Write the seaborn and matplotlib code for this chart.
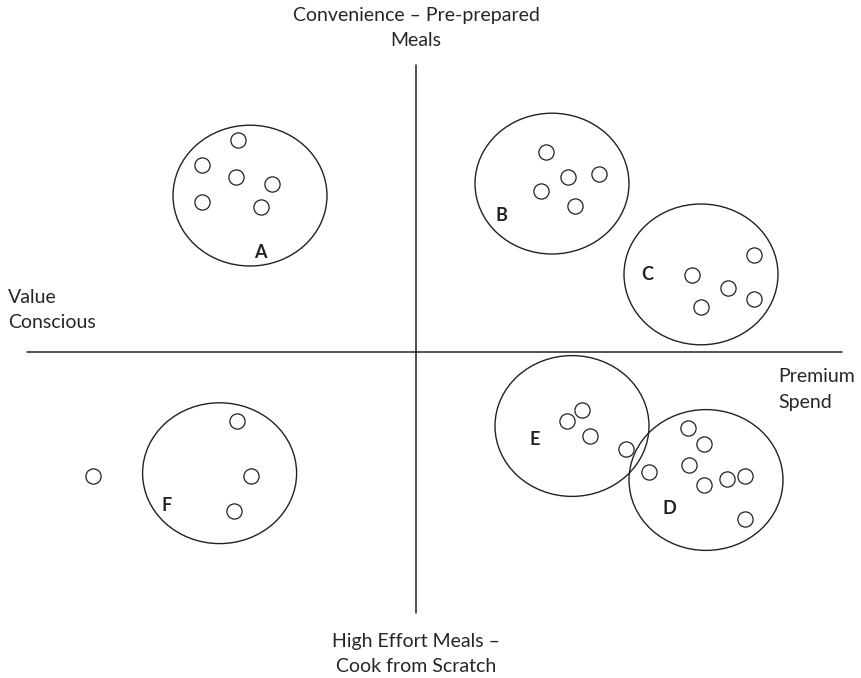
import numpy as np
import pandas as pd
import matplotlib
matplotlib.use("Agg")
import matplotlib.pyplot as plt
from matplotlib.patches import Ellipse
import seaborn as sns

# ---- data (perceptual map units; axes cross at 0,0) ----
seg_A_x = [-4.45, -5.35, -4.50, -3.60, -5.35, -3.875]
seg_A_y = [5.30, 4.675, 4.375, 4.20, 3.75, 3.625]
seg_B_x = [3.24, 3.79, 4.575, 3.125, 3.975]
seg_B_y = [5.01, 4.38, 4.44, 4.025, 3.66]
seg_C_x = [8.45, 6.89, 7.79, 8.45, 7.12]
seg_C_y = [2.425, 1.925, 1.59, 1.325, 1.13]
seg_D_x = [6.81, 7.20, 5.83, 6.83, 7.20, 7.77, 8.23, 8.23]
seg_D_y = [-1.91, -2.31, -3.01, -2.83, -3.33, -3.18, -3.09, -4.18]
seg_E_x = [4.16, 3.77, 4.35, 5.24]
seg_E_y = [-1.45, -1.72, -2.09, -2.43]
seg_F_x = [-8.07, -4.48, -4.13, -4.55]
seg_F_y = [-3.10, -1.72, -3.10, -3.97]

cluster_names = ["A", "B", "C", "D", "E", "F"]
cluster_cx = [-4.15, 3.40, 7.125, 7.25, 3.90, -4.91]
cluster_cy = [3.91, 4.21, 1.94, -3.20, -1.85, -3.03]
label_x = [-3.90, 2.14, 5.775, 6.33, 2.96, -6.23]
label_y = [2.50, 3.41, 1.95, -3.91, -2.18, -3.83]
cluster_w = 3.85
cluster_h = 3.52

axis_top_label = "Convenience – Pre-prepared\nMeals"
axis_bottom_label = "High Effort Meals –\nCook from Scratch"
axis_left_label = "Value\nConscious"
axis_right_label = "Premium\nSpend"

xs = seg_A_x + seg_B_x + seg_C_x + seg_D_x + seg_E_x + seg_F_x
ys = seg_A_y + seg_B_y + seg_C_y + seg_D_y + seg_E_y + seg_F_y
df = pd.DataFrame({"x": xs, "y": ys})

sns.set_theme(style="white")
plt.rcParams['font.family'] = ['Lato', 'DejaVu Sans']

fig = plt.figure(figsize=(8.61, 6.78), dpi=100)
ax = fig.add_axes([0, 0, 1, 1])
ax.set_xlim(-10.4, 11.125)
ax.set_ylim(-8.15, 8.8)
ax.axis("off")

# quadrant axes
ax.plot([0, 0], [-6.525, 7.175], color="#222222", lw=1.1)
ax.plot([-9.725, 10.65], [0, 0], color="#222222", lw=1.1)

# cluster ellipses
for cx, cy in zip(cluster_cx, cluster_cy):
    ax.add_patch(Ellipse((cx, cy), cluster_w, cluster_h, fill=False,
                         edgecolor="#222222", lw=1.0))

sns.scatterplot(data=df, x="x", y="y", ax=ax, s=120, facecolor="white",
                edgecolor="#222222", linewidth=0.9, zorder=3, legend=False)

for name, lx, ly in zip(cluster_names, label_x, label_y):
    ax.text(lx, ly, name, ha="center", va="center", fontsize=13,
            fontweight="bold", color="#222222")

tc = "#262626"
fs = 14
ls = 1.6
ax.text(0, 8.1, axis_top_label, ha="center", va="center", fontsize=fs,
        color=tc, linespacing=ls)
ax.text(0, -7.55, axis_bottom_label, ha="center", va="center", fontsize=fs,
        color=tc, linespacing=ls)
ax.text(-10.2, 1.05, axis_left_label, ha="left", va="center", fontsize=fs,
        color=tc, linespacing=ls)
ax.text(9.05, -0.94, axis_right_label, ha="left", va="center", fontsize=fs,
        color=tc, linespacing=ls)

fig.savefig("out.png", dpi=100)
